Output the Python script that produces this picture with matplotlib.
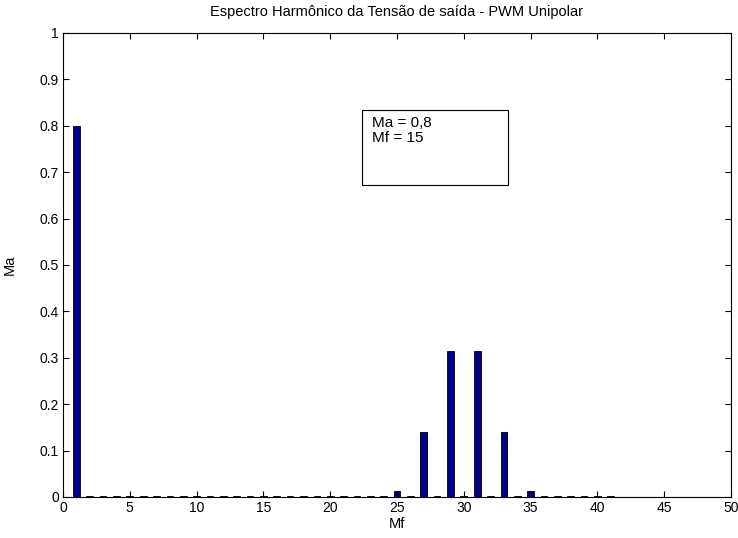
import matplotlib.pyplot as plt
from matplotlib.patches import Rectangle

plt.rcParams['font.family'] = ['Liberation Sans', 'DejaVu Sans']

# harmonic order and normalised amplitude
harmonics = list(range(1, 42))
amplitudes = [0.002] * len(harmonics)
peaks = {1: 0.80, 25: 0.012, 27: 0.14, 29: 0.315, 31: 0.315, 33: 0.14, 35: 0.012}
for h, a in peaks.items():
    amplitudes[h - 1] = a

title = "Espectro Harmônico da Tensão de saída - PWM Unipolar"
info = "Ma = 0,8\nMf = 15"

fig = plt.figure(figsize=(7.38, 5.38), dpi=100)
ax = fig.add_axes([63 / 738, 41 / 538, 668 / 738, 464 / 538])

ax.bar(harmonics, amplitudes, width=0.5, color="#00008C", edgecolor="black", linewidth=0.6)

ax.set_xlim(0, 50)
ax.set_ylim(0, 1)
ax.set_xticks(range(0, 51, 5))
ax.set_yticks([i / 10 for i in range(11)])
ax.set_yticklabels(["0"] + [f"{i / 10:g}" for i in range(1, 10)] + ["1"])
ax.tick_params(direction="in", top=True, right=True, labelsize=10, length=4, pad=3)

ax.set_title(title, fontsize=10.5, pad=12)
ax.set_xlabel("Mf", fontsize=10.5, labelpad=1)
ax.set_ylabel("Ma", fontsize=10.5, labelpad=16)

box = Rectangle((0.448, 0.672), 0.218, 0.162, transform=ax.transAxes,
                fill=False, edgecolor="black", linewidth=0.8)
ax.add_patch(box)
ax.text(0.462, 0.822, info, transform=ax.transAxes, va="top", ha="left",
        fontsize=11, linespacing=1.1)

fig.savefig("out.png", dpi=100)
